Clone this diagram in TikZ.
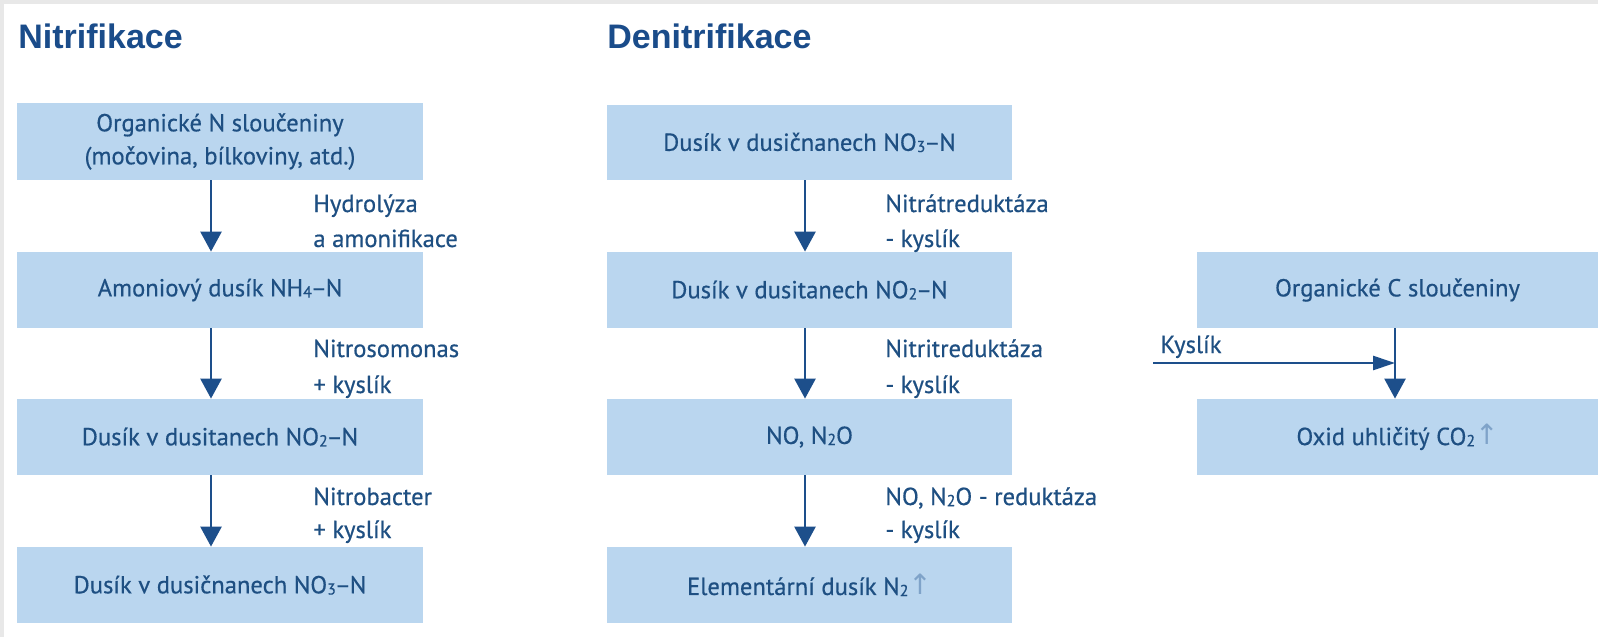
\documentclass[tikz,border=0pt]{standalone}
\usepackage{fontspec}
\setmainfont{PT Sans}[FakeBold=0.5]
\newfontfamily\bodyfont{PT Sans}[FakeBold=0.5]
\newfontfamily\headfont{Liberation Sans}
\newfontfamily\symfont{DejaVu Sans}
\usetikzlibrary{arrows.meta}
\definecolor{boxblue}{HTML}{BAD6EF}
\definecolor{txtblue}{HTML}{1E4F82}
\definecolor{headblue}{HTML}{1A4C8A}
\definecolor{arrblue}{HTML}{1D4F8B}
\definecolor{upblue}{HTML}{7FA3C9}
\definecolor{bandgray}{HTML}{E8E8E8}
\newcommand{\upar}{{\symfont\color{upblue}\fontsize{14}{14}\selectfont\raisebox{0.3pt}{↑}}}
\newcommand{\chsub}[1]{\raisebox{-0.6pt}{\fontsize{8}{8}\selectfont #1}}
\newcommand{\chdash}{\kern-0.6pt–\kern-0.6pt}
\begin{document}
\begin{tikzpicture}[x=0.5pt,y=-0.5pt,
  every node/.style={font=\bodyfont\fontsize{12.3}{16.5}\selectfont, text=txtblue},
  box/.style={fill=boxblue, inner sep=0pt, align=center},
  lbl/.style={anchor=base west, inner sep=0pt},
  head/.style={anchor=base west, inner sep=0pt, font=\headfont\bfseries\fontsize{17}{17}\selectfont, text=headblue},
  varr/.style={draw=arrblue, line width=1.3pt, -{Triangle[length=10pt,width=10.5pt]}},
  harr/.style={draw=arrblue, line width=1.3pt, -{Triangle[length=11pt,width=7pt]}}]
\useasboundingbox (0,0) rectangle (1598,637);
\fill[white] (0,0) rectangle (1598,637);
\fill[bandgray] (0,0) rectangle (1598,4);
\fill[bandgray] (0,0) rectangle (4,637);

% headings
\node[head] (h1) at (18,48) {Nitrifikace};
\node[head] (h2) at (607,48) {Denitrifikace};

% left column
\node[box, minimum width=203pt, minimum height=38.5pt] (a1) at (220,141.5) {Organické N sloučeniny\\(močovina, bílkoviny, atd.)};
\node[box, minimum width=203pt, minimum height=38pt] (a2) at (220,290) {Amoniový dusík NH\chsub{4}\chdash N};
\node[box, minimum width=203pt, minimum height=38pt] (a3) at (220,437) {Dusík v dusitanech NO\chsub{2}\chdash N};
\node[box, minimum width=203pt, minimum height=38pt] (a4) at (220,585) {Dusík v dusičnanech NO\chsub{3}\chdash N};
\coordinate (ax) at (211,0);
\draw[varr] (a1.south -| ax) -- (a2.north -| ax);
\draw[varr] (a2.south -| ax) -- (a3.north -| ax);
\draw[varr] (a3.south -| ax) -- (a4.north -| ax);
\node[lbl] (la1) at (313,212) {Hydrolýza};
\node[lbl] (la2) at (313,247) {a amonifikace};
\node[lbl] (lb1) at (313,357) {Nitrosomonas};
\node[lbl] (lb2) at (313,393) {+ kyslík};
\node[lbl] (lc1) at (313,505) {Nitrobacter};
\node[lbl] (lc2) at (313,538) {+ kyslík};

% middle column
\node[box, minimum width=202.5pt, minimum height=37.5pt] (b1) at (809.5,142.5) {Dusík v dusičnanech NO\chsub{3}\chdash N};
\node[box, minimum width=202.5pt, minimum height=38pt] (b2) at (809.5,290) {Dusík v dusitanech NO\chsub{2}\chdash N};
\node[box, minimum width=202.5pt, minimum height=38pt] (b3) at (809.5,437) {NO, N\chsub{2}O};
\node[box, minimum width=202.5pt, minimum height=38pt] (b4) at (809.5,585) {Elementární dusík N\chsub{2}\upar};
\coordinate (bx) at (805,0);
\draw[varr] (b1.south -| bx) -- (b2.north -| bx);
\draw[varr] (b2.south -| bx) -- (b3.north -| bx);
\draw[varr] (b3.south -| bx) -- (b4.north -| bx);
\node[lbl] (ma1) at (885,212) {Nitrátreduktáza};
\node[lbl] (ma2) at (885,247) {- kyslík};
\node[lbl] (mb1) at (885,357) {Nitritreduktáza};
\node[lbl] (mb2) at (885,393) {- kyslík};
\node[lbl] (mc1) at (885,505) {NO, N\chsub{2}O - reduktáza};
\node[lbl] (mc2) at (885,538) {- kyslík};

% right column
\node[box, minimum width=200.5pt, minimum height=38pt] (c1) at (1397.5,290) {Organické C sloučeniny};
\node[box, minimum width=200.5pt, minimum height=38pt] (c2) at (1397.5,437) {Oxid uhličitý CO\chsub{2}\upar};
\coordinate (cx) at (1395,0);
\draw[varr] (c1.south -| cx) -- (c2.north -| cx);
\coordinate (kst) at (1153,363);
\draw[harr] (kst) -- (kst -| cx);
\node[lbl] (kl) at (1160,353) {Kyslík};
\end{tikzpicture}
\end{document}
